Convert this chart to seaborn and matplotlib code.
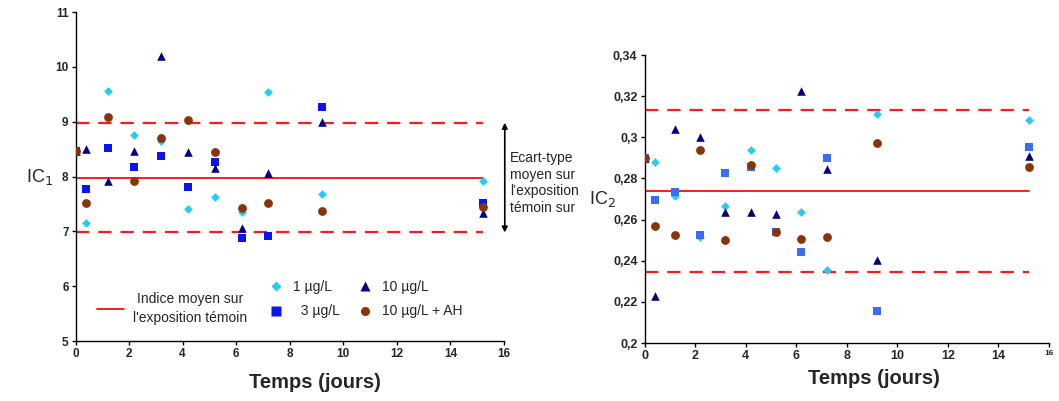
import numpy as np
import pandas as pd
import matplotlib
matplotlib.use("Agg")
import matplotlib.pyplot as plt
from matplotlib.lines import Line2D
import seaborn as sns

sns.set_style("white")
plt.rcParams['font.family'] = ['Liberation Sans', 'DejaVu Sans']

days = [0, 0.4, 1.2, 2.2, 3.2, 4.2, 5.2, 6.2, 7.2, 9.2, 15.2]
series = ["1 µg/L", "3 µg/L", "10 µg/L", "10 µg/L + AH"]

ic1_1 = [8.47, 7.15, 9.56, 8.75, 8.65, 7.40, 7.62, 7.35, 9.55, 7.68, 7.92]
ic1_3 = [8.47, 7.78, 8.52, 8.18, 8.38, 7.80, 8.27, 6.87, 6.91, 9.26, 7.51]
ic1_10 = [8.47, 8.50, 7.91, 8.47, 10.19, 8.45, 8.15, 7.07, 8.07, 9.00, 7.33]
ic1_ah = [8.47, 7.51, 9.09, 7.92, 8.70, 9.03, 8.44, 7.43, 7.52, 7.37, 7.45]

ic2_1 = [0.290, 0.2878, 0.2716, 0.2515, 0.2667, 0.2940, 0.2851, 0.2638, 0.2355, 0.3113, 0.3085]
ic2_3 = [0.290, 0.2694, 0.2733, 0.2525, 0.2825, 0.2857, 0.2538, 0.2441, 0.2899, 0.2156, 0.2953]
ic2_10 = [0.290, 0.2230, 0.3040, 0.3000, 0.2638, 0.2638, 0.2627, 0.3226, 0.2847, 0.2405, 0.2910]
ic2_ah = [0.2898, 0.2570, 0.2526, 0.2940, 0.2499, 0.2865, 0.2538, 0.2504, 0.2514, 0.2974, 0.2856]

ic1_mean, ic1_sd = 7.98, 1.0
ic2_mean, ic2_sd = 0.274, 0.0393
line_end = 15.2

xticks = [0, 2, 4, 6, 8, 10, 12, 14, 16]
ic1_yticks = [5, 6, 7, 8, 9, 10, 11]
ic2_yticks = [0.2, 0.22, 0.24, 0.26, 0.28, 0.3, 0.32, 0.34]
ic2_yticklabels = ["0,2", "0,22", "0,24", "0,26", "0,28", "0,3", "0,32", "0,34"]


def make_df(vals):
    rows = []
    for name, v in zip(series, vals):
        for d, y in zip(days, v):
            rows.append({"day": d, "val": y, "serie": name})
    return pd.DataFrame(rows)


df1 = make_df([ic1_1, ic1_3, ic1_10, ic1_ah])
df2 = make_df([ic2_1, ic2_3, ic2_10, ic2_ah])

markers = {"1 µg/L": "D", "3 µg/L": "s", "10 µg/L": "^", "10 µg/L + AH": "o"}
sizes = {"1 µg/L": 20, "3 µg/L": 36, "10 µg/L": 38, "10 µg/L + AH": 40}
pal1 = {"1 µg/L": "#22CCF5", "3 µg/L": "#0A14F0", "10 µg/L": "#000080", "10 µg/L + AH": "#8A3309"}
pal2 = {"1 µg/L": "#22CCF5", "3 µg/L": "#3A6CF5", "10 µg/L": "#000080", "10 µg/L + AH": "#8A3309"}

fig = plt.figure(figsize=(10.59, 4.01), dpi=100)
ax1 = fig.add_axes([0.0713, 0.1496, 0.4046, 0.8204])
ax2 = fig.add_axes([0.6086, 0.1446, 0.382, 0.7182])

for ax, df, pal in [(ax1, df1, pal1), (ax2, df2, pal2)]:
    for name in series:
        sub = df[df.serie == name]
        sns.scatterplot(data=sub, x="day", y="val", marker=markers[name],
                        color=pal[name], s=sizes[name], linewidth=0,
                        ax=ax, legend=False, zorder=3)

# reference lines
for ax, m, sd in [(ax1, ic1_mean, ic1_sd), (ax2, ic2_mean, ic2_sd)]:
    ax.plot([0, line_end], [m, m], color="#FF1A1A", lw=1.4, zorder=2)
    for yy in (m + sd, m - sd):
        ax.plot([0, line_end], [yy, yy], color="#FF1A1A", lw=1.6,
                dashes=(6, 4), zorder=2)

# axes styling
for ax in (ax1, ax2):
    ax.set_xlim(0, 16)
    ax.set_xticks(xticks)
    for s in ("top", "right"):
        ax.spines[s].set_visible(False)
    for s in ("left", "bottom"):
        ax.spines[s].set_color("black")
        ax.spines[s].set_linewidth(1.0)
    ax.tick_params(axis="both", direction="out", length=3, width=1,
                   color="black", left=True, bottom=True, pad=2)
    ax.set_xlabel("Temps (jours)", fontsize=14.5, fontweight="bold")

ax1.set_ylim(5, 11)
ax1.set_yticks(ic1_yticks)
for lab in ax1.get_xticklabels() + ax1.get_yticklabels():
    lab.set_fontweight("bold")
    lab.set_fontsize(8.5)
ax1.set_ylabel("IC$_1$", fontsize=13, rotation=0, va="center")
ax1.yaxis.set_label_coords(-0.085, 0.5)
ax1.xaxis.set_label_coords(0.559, -0.098)

ax2.set_ylim(0.2, 0.34)
ax2.set_yticks(ic2_yticks)
ax2.set_yticklabels(ic2_yticklabels)
for lab in ax2.get_xticklabels() + ax2.get_yticklabels():
    lab.set_fontweight("bold")
    lab.set_fontsize(9)
ax2.get_xticklabels()[-1].set_fontsize(6)
ax2.set_ylabel("IC$_2$", fontsize=13, rotation=0, va="center")
ax2.yaxis.set_label_coords(-0.105, 0.50)
ax2.xaxis.set_label_coords(0.567, -0.09)

# arrow + annotation on left panel
ax1.annotate("", xy=(16.03, ic1_mean + ic1_sd), xytext=(16.03, ic1_mean - ic1_sd),
             arrowprops=dict(arrowstyle="<|-|>", color="black", lw=1.2,
                             mutation_scale=8, shrinkA=0, shrinkB=0),
             annotation_clip=False)
ax1.text(16.22, 7.88, "Ecart-type\nmoyen sur\nl\u2019exposition\ntémoin sur",
         fontsize=10, va="center", ha="left", linespacing=1.25, clip_on=False)

# legends
line_handle = [Line2D([0], [0], color="#FF1A1A", lw=1.4)]
leg1 = ax1.legend(line_handle, ["Indice moyen sur\nl'exposition témoin"],
                  loc="center left", bbox_to_anchor=(0.02, 0.098), frameon=False,
                  fontsize=10, handlelength=2.0, handletextpad=0.6)
for t in leg1.get_texts():
    t.set_ha("center")
    t.set_multialignment("center")
    t.set_linespacing(1.45)
ax1.add_artist(leg1)

mk_handles = [Line2D([0], [0], marker=markers[n], color="none",
                     markerfacecolor=pal1[n], markeredgecolor="none",
                     markersize=(5 if n == "1 µg/L" else 6.5)) for n in series]
mk_labels = ["1 µg/L", "  3 µg/L", "10 µg/L", "10 µg/L + AH"]
ax1.legend(mk_handles, mk_labels, loc="center left",
           bbox_to_anchor=(0.42, 0.127), ncol=2, frameon=False, fontsize=10,
           handlelength=1.2, handletextpad=0.6, columnspacing=1.2,
           labelspacing=0.75)

fig.savefig("out.png", dpi=100)
